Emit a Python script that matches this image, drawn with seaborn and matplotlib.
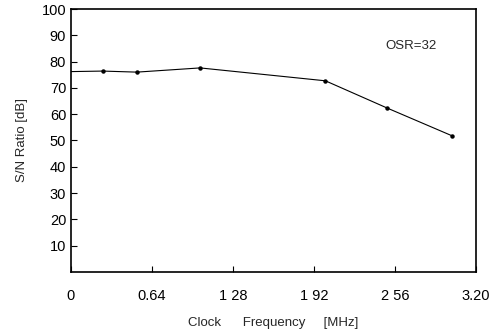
import matplotlib
matplotlib.use("Agg")
import matplotlib.pyplot as plt
import seaborn as sns
import pandas as pd

freq_mhz = [0.0, 0.25, 0.52, 1.02, 2.01, 2.50, 3.01]
sn_ratio_db = [76.2, 76.4, 76.0, 77.6, 72.7, 62.3, 51.8]
marker_freq = [0.25, 0.52, 1.02, 2.01, 2.50, 3.01]
marker_sn = [76.4, 76.0, 77.6, 72.7, 62.3, 51.8]
x_ticks = [0, 0.64, 1.28, 1.92, 2.56, 3.20]
x_tick_labels = ["0", "0.64", "1 28", "1 92", "2 56", "3.20"]
y_ticks = [10, 20, 30, 40, 50, 60, 70, 80, 90, 100]

sns.set_style("ticks")
plt.rcParams["font.family"] = ["Liberation Sans", "DejaVu Sans"]

fig = plt.figure(figsize=(4.92, 3.30), dpi=100)
ax = fig.add_axes([0.1443, 0.1758, 0.9675 - 0.1443, 0.9727 - 0.1758])

df = pd.DataFrame({"f": freq_mhz, "sn": sn_ratio_db})
sns.lineplot(data=df, x="f", y="sn", ax=ax, color="black", linewidth=0.8)
ax.plot(marker_freq, marker_sn, "o", color="black", markersize=2.2)

ax.set_xlim(0, 3.20)
ax.set_ylim(0, 100)
ax.set_xticks(x_ticks)
ax.set_xticklabels(x_tick_labels)
ax.set_yticks(y_ticks)
ax.tick_params(direction="in", length=4, width=0.8, labelsize=10.5, colors="black")
ax.tick_params(axis="x", pad=12)
for s in ax.spines.values():
    s.set_visible(True)
    s.set_linewidth(1.2)
    s.set_color("black")

ax.set_xlabel("Clock      Frequency     [MHz]", fontsize=9.5, labelpad=10)
ax.set_ylabel("S/N Ratio [dB]", fontsize=9.5, labelpad=10)
ax.text(2.69, 86, "OSR=32", fontsize=9.5, ha="center", va="center")

fig.savefig("out.png", dpi=100)
